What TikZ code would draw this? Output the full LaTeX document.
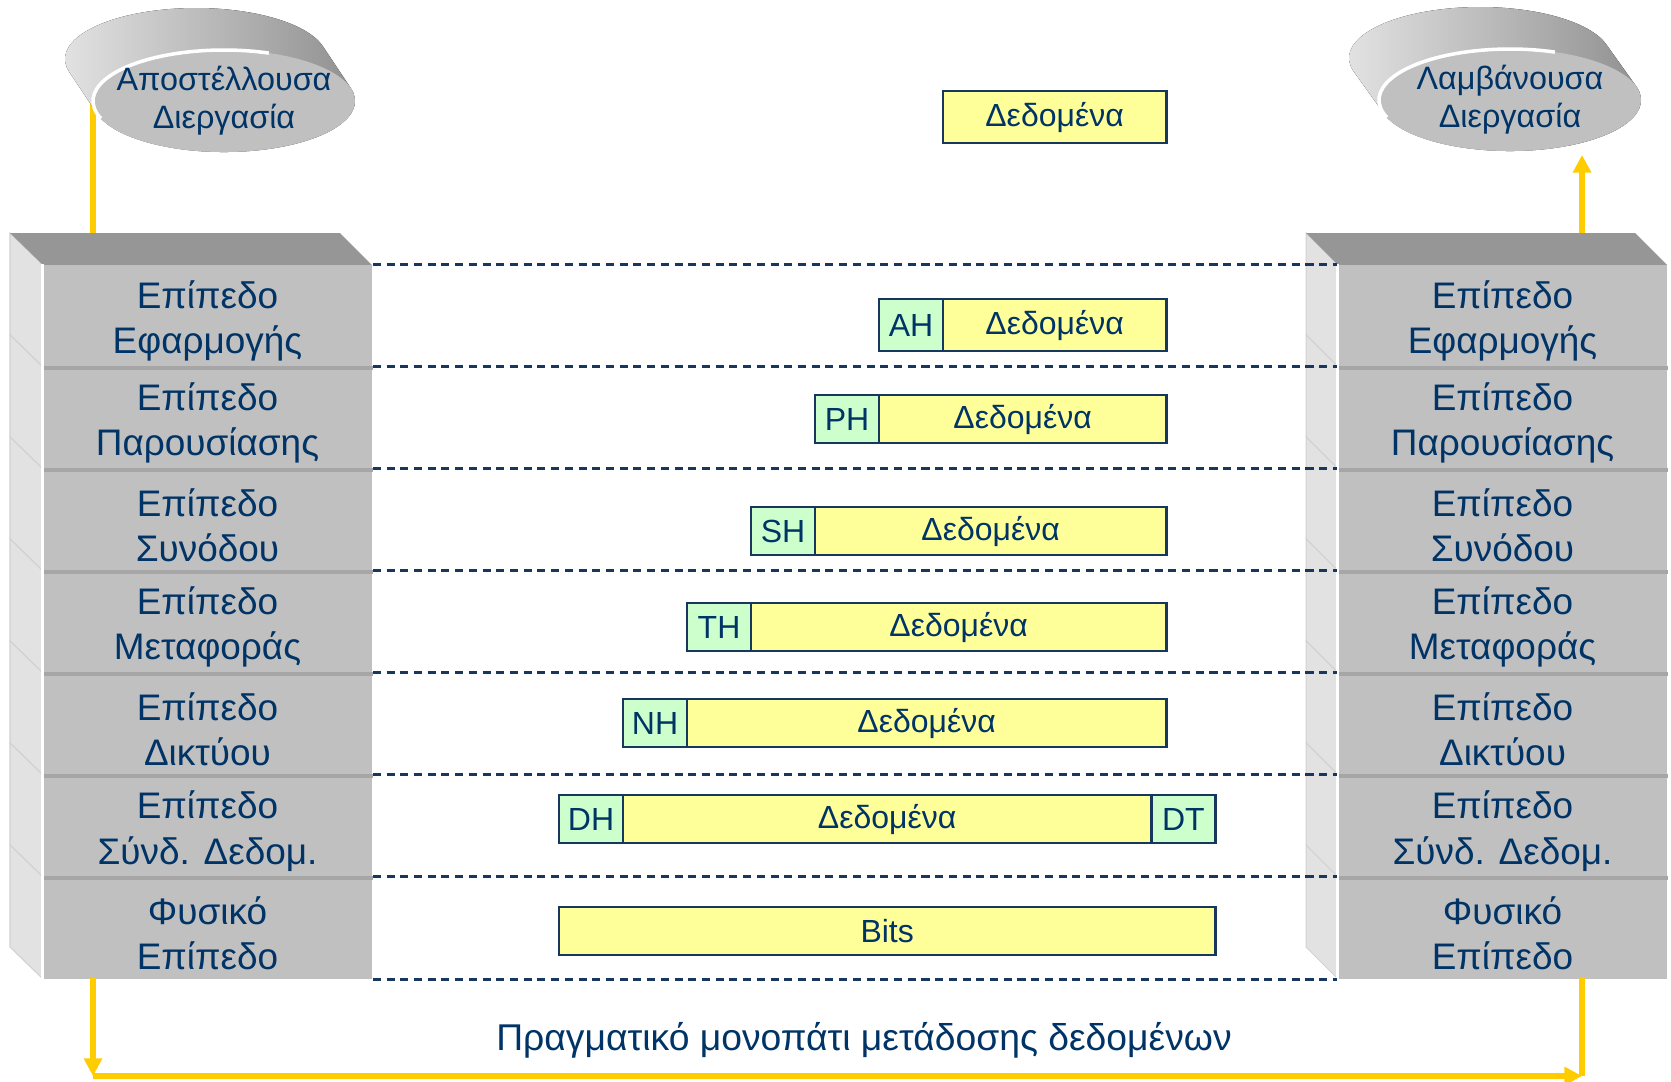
\documentclass[tikz,border=0pt]{standalone}
\usepackage{fontspec}
\setmainfont{Liberation Sans}
\usepackage{tikz}
\usetikzlibrary{arrows.meta}
\definecolor{navy}{RGB}{0,51,102}
\definecolor{frame}{RGB}{23,55,94}
\definecolor{datafill}{RGB}{255,255,153}
\definecolor{hdrfill}{RGB}{204,255,204}
\definecolor{pathyel}{RGB}{255,204,0}
\definecolor{facegray}{RGB}{192,192,192}
\definecolor{topgray}{RGB}{150,150,150}
\definecolor{sidegray}{RGB}{226,226,226}

\begin{document}
\begin{tikzpicture}[x=0.01cm,y=-0.01cm,
  osibox/.style={fill=facegray, minimum width=3.29cm, minimum height=1.02cm, inner sep=0pt},
  osilabel/.style={text=navy, align=center, inner sep=0pt, font=\fontsize{10.5}{12.9}\selectfont},
  pkt/.style={draw=frame, line width=0.8pt, outer sep=0pt, minimum height=0.48cm, inner sep=0pt, text=navy, font=\fontsize{9.1}{11}\selectfont, anchor=north west},
  hdr/.style={pkt, fill=hdrfill, minimum width=0.64cm},
  dat/.style={pkt, fill=datafill},
  disktext/.style={text=navy, align=center, font=\fontsize{9.2}{10.8}\selectfont},
  diskshade/.style={left color=black!10, right color=black!45},
  layerline/.style={draw=frame, line width=0.75pt, dash pattern=on 2.3pt off 1.6pt},
  datapath/.style={draw=pathyel, line width=1.6pt},
  arrowend/.style={-{Triangle[length=5pt,width=5pt]}}]
\useasboundingbox (0,0) rectangle (1671,1081);

\coordinate (sndc) at (224,101);
\coordinate (rcvc) at (1510,100);
\coordinate (sndout) at (93,101);
\coordinate (sndtop) at (93,233);
\coordinate (sndbot) at (93,978);
\coordinate (lowleft) at (93,1076);
\coordinate (lowright) at (1582,1076);
\coordinate (rcvbot) at (1582,978);
\coordinate (rcvtop) at (1582,233);
\coordinate (rcvin) at (1582,155);

\draw[datapath] (sndout) -- (sndtop);

% processes
\fill[diskshade] (sndc) ++(126.8,-12.8) -- ++(-28,-42) arc[start angle=-14.55,end angle=-194.55,x radius=131,y radius=51] -- ++(28,42) arc[start angle=165.45,end angle=-14.55,x radius=131,y radius=51] -- cycle;
\fill[facegray] (sndc) ellipse[x radius=131,y radius=51];
\draw[white, line width=1pt] (sndc) ++(160:131 and 51) arc[start angle=160,end angle=290,x radius=131,y radius=51];
\node[disktext] (snd) at (sndc) {Αποστέλλουσα\\Διεργασία};

\fill[diskshade] (rcvc) ++(126.8,-12.8) -- ++(-30,-42) arc[start angle=-14.55,end angle=-194.55,x radius=131,y radius=51] -- ++(30,42) arc[start angle=165.45,end angle=-14.55,x radius=131,y radius=51] -- cycle;
\fill[facegray] (rcvc) ellipse[x radius=131,y radius=51];
\draw[white, line width=1pt] (rcvc) ++(160:131 and 51) arc[start angle=160,end angle=290,x radius=131,y radius=51];
\node[disktext] (rcv) at (rcvc) {Λαμβάνουσα\\Διεργασία};

% stacks
\foreach \y in {265,367,...,877} {
  \filldraw[fill=sidegray, draw=black!18, line width=0.3pt] (10,\y-32) -- (43,\y) -- (43,\y+102) -- (10,\y+70) -- cycle;
  \filldraw[fill=sidegray, draw=black!18, line width=0.3pt] (1306,\y-32) -- (1338,\y) -- (1338,\y+102) -- (1306,\y+70) -- cycle;
}
\fill[topgray] (10,233) -- (340,233) -- (372,265) -- (43,265) -- cycle;
\fill[topgray] (1306,233) -- (1635,233) -- (1667,265) -- (1338,265) -- cycle;

\foreach \txt [count=\i] in {{Επίπεδο\\Εφαρμογής},{Επίπεδο\\Παρουσίασης},{Επίπεδο\\Συνόδου},{Επίπεδο\\Μεταφοράς},{Επίπεδο\\Δικτύου},{Επίπεδο\\Σύνδ. Δεδομ.},{Φυσικό\\Επίπεδο}} {
  \node[osibox] (snd\i) at (207.5,214+102*\i) {};
  \node[osibox] (rcv\i) at (1502.5,214+102*\i) {};
  \node[osilabel] (sndt\i) at ([yshift=-0.05cm]snd\i.center) {\txt};
  \node[osilabel] (rcvt\i) at ([yshift=-0.05cm]rcv\i.center) {\txt};
}
\foreach \i in {1,...,6} {
  \draw[black!35, line width=1pt] (snd\i.south west) -- (snd\i.south east);
  \draw[black!35, line width=1pt] (rcv\i.south west) -- (rcv\i.south east);
}
\draw[white, line width=0.8pt] (snd1.north west) -- (snd7.south west);
\draw[white, line width=0.8pt] (rcv1.north west) -- (rcv7.south west);

\foreach \i in {1,...,7}
  \draw[layerline] (snd\i.north east) -- (rcv\i.north west);
\draw[layerline] (snd7.south east) -- (rcv7.south west);

% packets
\node[dat, minimum width=2.23cm, minimum height=0.52cm] (app) at (943,91) {Δεδομένα};
\node[hdr, minimum height=0.52cm] (ah) at (879,299) {AH};
\node[dat, minimum width=2.23cm, minimum height=0.52cm] (ahd) at (ah.north east) {Δεδομένα};
\node[hdr] (ph) at (815,395) {PH};
\node[dat, minimum width=2.87cm] (phd) at (ph.north east) {Δεδομένα};
\node[hdr] (sh) at (751,507) {SH};
\node[dat, minimum width=3.51cm] (shd) at (sh.north east) {Δεδομένα};
\node[hdr] (th) at (687,603) {TH};
\node[dat, minimum width=4.15cm] (thd) at (th.north east) {Δεδομένα};
\node[hdr] (nh) at (623,699) {NH};
\node[dat, minimum width=4.79cm] (nhd) at (nh.north east) {Δεδομένα};
\node[hdr] (dh) at (559,795) {DH};
\node[dat, minimum width=5.28cm] (dhd) at (dh.north east) {Δεδομένα};
\node[hdr] (dt) at (dhd.north east) {DT};
\node[dat, minimum width=6.56cm] (bits) at (559,907) {Bits};

% real path
\draw[datapath, arrowend] (sndbot) -- (lowleft);
\draw[datapath, arrowend] (lowleft) -- (lowright);
\draw[datapath] (lowright) -- (rcvbot);
\draw[datapath, arrowend] (rcvtop) -- (rcvin);
\node[text=navy, font=\fontsize{10.6}{12}\selectfont] (path) at (864,1040) {Πραγματικό μονοπάτι μετάδοσης δεδομένων};
\end{tikzpicture}
\end{document}
